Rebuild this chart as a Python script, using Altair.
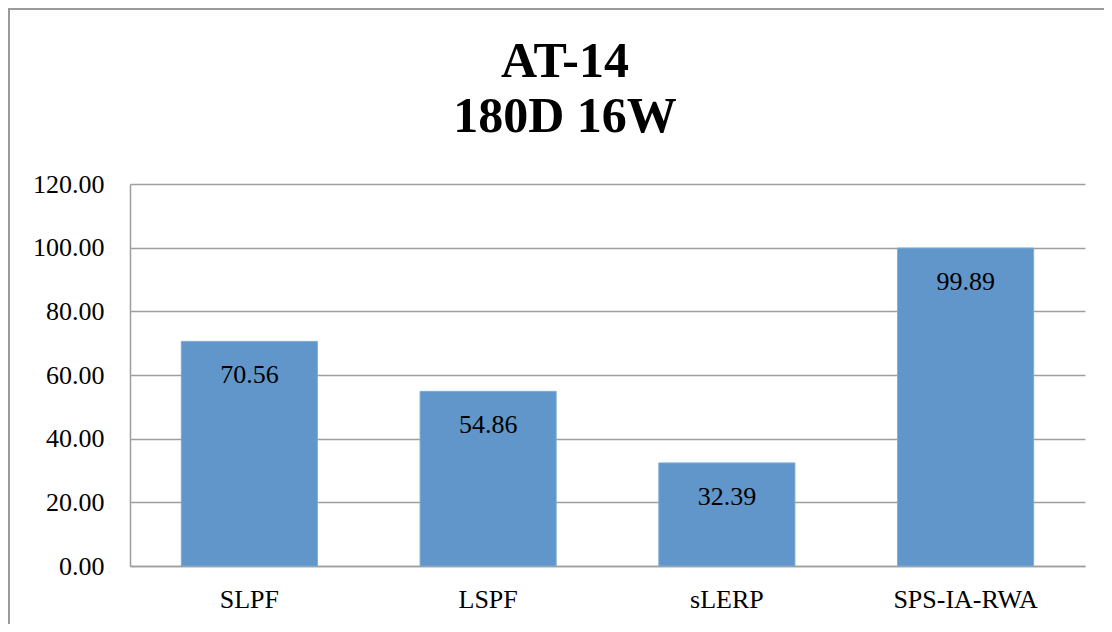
import altair as alt
import pandas as pd

categories = ["SLPF", "LSPF", "sLERP", "SPS-IA-RWA"]
values = [70.56, 54.86, 32.39, 99.89]
y_ticks = [0, 20, 40, 60, 80, 100, 120]
title_lines = ["AT-14", "180D 16W"]

df = pd.DataFrame({"method": categories, "value": values})

PAD_L, PAD_T, PAD_R, PAD_B = 122, 176, 19, 58
W, H = 955, 382

x = alt.X("method:N", sort=categories, title=None,
          scale=alt.Scale(paddingInner=0.43, paddingOuter=0.215),
          axis=alt.Axis(labelAngle=0, labelFont="Liberation Serif", labelFontSize=26,
                        labelColor="#000000", labelPadding=20, ticks=False,
                        domainColor="#9e9e9e", domainWidth=1.5, grid=False))
y = alt.Y("value:Q", title=None,
          scale=alt.Scale(domain=[0, 120]),
          axis=alt.Axis(values=y_ticks, format=".2f", labelFont="Liberation Serif",
                        labelFontSize=26, labelColor="#000000", labelPadding=26,
                        ticks=False, domainColor="#9e9e9e", domainWidth=1.5,
                        gridColor="#9e9e9e", gridWidth=1.5))

bars = alt.Chart(df).mark_bar(color="#6096C9", stroke="#7FAAD6", strokeWidth=1).encode(x=x, y=y)

labels = alt.Chart(df).mark_text(font="Liberation Serif", fontSize=26, color="#000000",
                                 baseline="middle", dy=34).encode(
    x=alt.X("method:N", sort=categories),
    y=alt.Y("value:Q"),
    text=alt.Text("value:Q", format=".2f"))

title_df = pd.DataFrame({"line": title_lines})
title1 = alt.Chart(title_df).transform_filter(alt.datum.line == title_lines[0]).mark_text(
    font="Liberation Serif", fontSize=50, fontWeight="bold", color="#000000",
    baseline="alphabetic", align="center").encode(
    text="line:N", x=alt.value(435), y=alt.value(-107))
title2 = alt.Chart(title_df).transform_filter(alt.datum.line == title_lines[1]).mark_text(
    font="Liberation Serif", fontSize=50, fontWeight="bold", color="#000000",
    baseline="alphabetic", align="center").encode(
    text="line:N", x=alt.value(435), y=alt.value(-52))

frame_left = alt.Chart(df).mark_rule(color="#9a9a9a", strokeWidth=2).encode(
    x=alt.value(-PAD_L + 1), y=alt.value(-PAD_T), y2=alt.value(H + PAD_B))
frame_top = alt.Chart(df).mark_rule(color="#9a9a9a", strokeWidth=2).encode(
    x=alt.value(-PAD_L), x2=alt.value(W + PAD_R), y=alt.value(-PAD_T + 1))

chart = alt.layer(bars, labels, title1, title2, frame_left, frame_top).properties(
    width=W, height=H,
    background="white",
    autosize=alt.AutoSizeParams(type="none"),
    padding={"left": PAD_L, "top": PAD_T, "right": PAD_R, "bottom": PAD_B},
).configure_view(stroke=None)

chart.save("out.html", embed_options={"renderer": "svg", "actions": False})
